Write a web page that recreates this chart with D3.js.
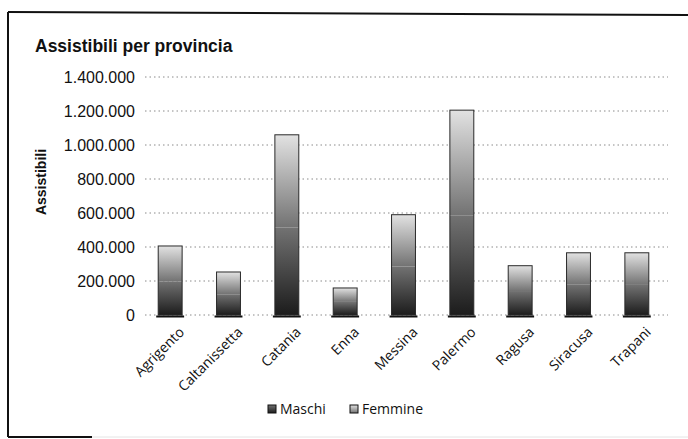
<!DOCTYPE html>
<html>
<head>
<meta charset="utf-8">
<script src="https://cdn.jsdelivr.net/npm/d3@7"></script>
<style>
  body { margin: 0; background: #fff; }
  svg { display: block; }
</style>
</head>
<body>
<svg id="chart"></svg>
<script>
// data
let province = ['Agrigento', 'Caltanissetta', 'Catania', 'Enna', 'Messina', 'Palermo', 'Ragusa', 'Siracusa', 'Trapani'];
let maschi   = [197000, 122000, 514000, 77000, 285000, 584000, 141000, 178000, 177000];
let femmine  = [209000, 131000, 546000, 82000, 305000, 621000, 149000, 188000, 189000];
let serie    = ['Maschi', 'Femmine'];
let yTicks   = [0, 200000, 400000, 600000, 800000, 1000000, 1200000, 1400000];

let widthSVG = 688;
let heightSVG = 439;

let svg = d3.select('svg#chart')
            .attr('width', widthSVG)
            .attr('height', heightSVG);

// gradients, dark at the bottom and light at the top
let defs = svg.append('defs');
let gradStops = {
  Maschi: ['#1c1c1c', '#727272'],
  Femmine: ['#727272', '#e2e2e2']
};
serie.forEach(s => {
  let g = defs.append('linearGradient')
              .attr('id', 'grad' + s)
              .attr('x1', 0).attr('y1', 1)
              .attr('x2', 0).attr('y2', 0);
  g.append('stop').attr('offset', '0%').attr('stop-color', gradStops[s][0]);
  g.append('stop').attr('offset', '100%').attr('stop-color', gradStops[s][1]);
});

// frame of the chart area (scan shows left, top and a bit of the bottom)
svg.append('line')
   .attr('x1', 8).attr('x2', 8).attr('y1', 12).attr('y2', 437)
   .style('stroke', '#111').style('stroke-width', 2);
svg.append('line')
   .attr('x1', 8).attr('x2', 688).attr('y1', 12).attr('y2', 15)
   .style('stroke', '#111').style('stroke-width', 2);
svg.append('line')
   .attr('x1', 8).attr('x2', 92).attr('y1', 437).attr('y2', 437)
   .style('stroke', '#111').style('stroke-width', 2);
svg.append('line')
   .attr('x1', 92).attr('x2', 688).attr('y1', 437).attr('y2', 437)
   .style('stroke', '#e4e4e4').style('stroke-width', 1);

// title
svg.append('text')
   .text('Assistibili per provincia')
   .attr('x', 35)
   .attr('y', 52)
   .style('font-family', 'Liberation Sans, Arial, sans-serif')
   .style('font-weight', 'bold')
   .style('font-size', '17.5px')
   .style('fill', '#111');

// scales
let x = d3.scaleBand()
          .domain(province)
          .range([141, 666])
          .paddingInner(0.59)
          .paddingOuter(0.295);

let y = d3.scaleLinear()
          .domain([0, 1400000])
          .range([315, 77]);

// gridlines (dotted)
svg.append('g')
   .selectAll('line')
   .data(yTicks)
   .enter()
   .append('line')
   .attr('x1', 145)
   .attr('x2', 668)
   .attr('y1', d => y(d))
   .attr('y2', d => y(d))
   .style('stroke', '#8a8a8a')
   .style('stroke-width', 1)
   .style('stroke-dasharray', '1.5,3');

// y axis labels
let fmt = d => d3.format(',')(d).replace(/,/g, '.');
let yAxis = d3.axisLeft(y)
              .tickValues(yTicks)
              .tickFormat(fmt)
              .tickSize(0)
              .tickPadding(0);
let yG = svg.append('g')
            .attr('transform', 'translate(135, 0)')
            .call(yAxis);
yG.select('.domain').remove();
yG.selectAll('text')
  .style('font-family', 'Liberation Sans, Arial, sans-serif')
  .style('font-size', '16px')
  .style('fill', '#111');

// y axis title
svg.append('text')
   .text('Assistibili')
   .attr('transform', 'translate(46, 182) rotate(-90)')
   .style('text-anchor', 'middle')
   .style('font-family', 'Liberation Sans, Arial, sans-serif')
   .style('font-weight', 'bold')
   .style('font-size', '14px')
   .style('fill', '#111');

// stacked bars
let table = province.map((p, i) => ({ provincia: p, Maschi: maschi[i], Femmine: femmine[i] }));
let stacked = d3.stack().keys(serie)(table);

let layers = svg.append('g')
                .selectAll('g.layer')
                .data(stacked)
                .enter()
                .append('g')
                .classed('layer', true)
                .style('fill', d => `url(#grad${d.key})`);

layers.selectAll('rect')
      .data(d => d)
      .enter()
      .append('rect')
      .attr('x', d => x(d.data.provincia))
      .attr('width', x.bandwidth())
      .attr('y', d => y(d[1]))
      .attr('height', d => y(d[0]) - y(d[1]))
      .style('stroke', 'none');

// outline of the whole bar (no line between the two segments)
let topLayer = stacked[stacked.length - 1];
svg.append('g')
   .selectAll('rect')
   .data(topLayer)
   .enter()
   .append('rect')
   .attr('x', d => x(d.data.provincia))
   .attr('width', x.bandwidth())
   .attr('y', d => y(d[1]))
   .attr('height', d => y(0) - y(d[1]))
   .style('fill', 'none')
   .style('stroke', '#2a2a2a')
   .style('stroke-width', 1);

// dark base line under each bar
svg.append('g')
   .selectAll('line')
   .data(province)
   .enter()
   .append('line')
   .attr('x1', d => x(d) - 2)
   .attr('x2', d => x(d) + x.bandwidth() + 2)
   .attr('y1', y(0) + 1.5)
   .attr('y2', y(0) + 1.5)
   .style('stroke', '#111')
   .style('stroke-width', 2);

// category labels, rotated
let xAxis = d3.axisBottom(x).tickSize(0).tickPadding(0);
let xG = svg.append('g')
            .attr('transform', `translate(0, ${y(0) + 11})`)
            .call(xAxis);
xG.select('.domain').remove();
xG.selectAll('text')
  .attr('transform', 'translate(8, 0) rotate(-45)')
  .attr('dy', '0.7em')
  .style('text-anchor', 'end')
  .style('font-family', 'Open Sans, sans-serif')
  .style('font-size', '14px')
  .style('fill', '#111');

// legend
let legendX = [268, 350];
let legend = svg.append('g')
                .selectAll('g.leg')
                .data(serie)
                .enter()
                .append('g')
                .classed('leg', true)
                .attr('transform', (d, i) => `translate(${legendX[i]}, 409)`);

legend.append('rect')
      .attr('x', 0)
      .attr('y', -4)
      .attr('width', 8)
      .attr('height', 8)
      .style('fill', d => `url(#grad${d})`)
      .style('stroke', '#111')
      .style('stroke-width', 1);

legend.append('text')
      .text(d => d)
      .attr('x', 12)
      .attr('y', 0)
      .attr('dy', '0.35em')
      .style('font-family', 'Open Sans, sans-serif')
      .style('font-size', '14px')
      .style('fill', '#111');
</script>
</body>
</html>
